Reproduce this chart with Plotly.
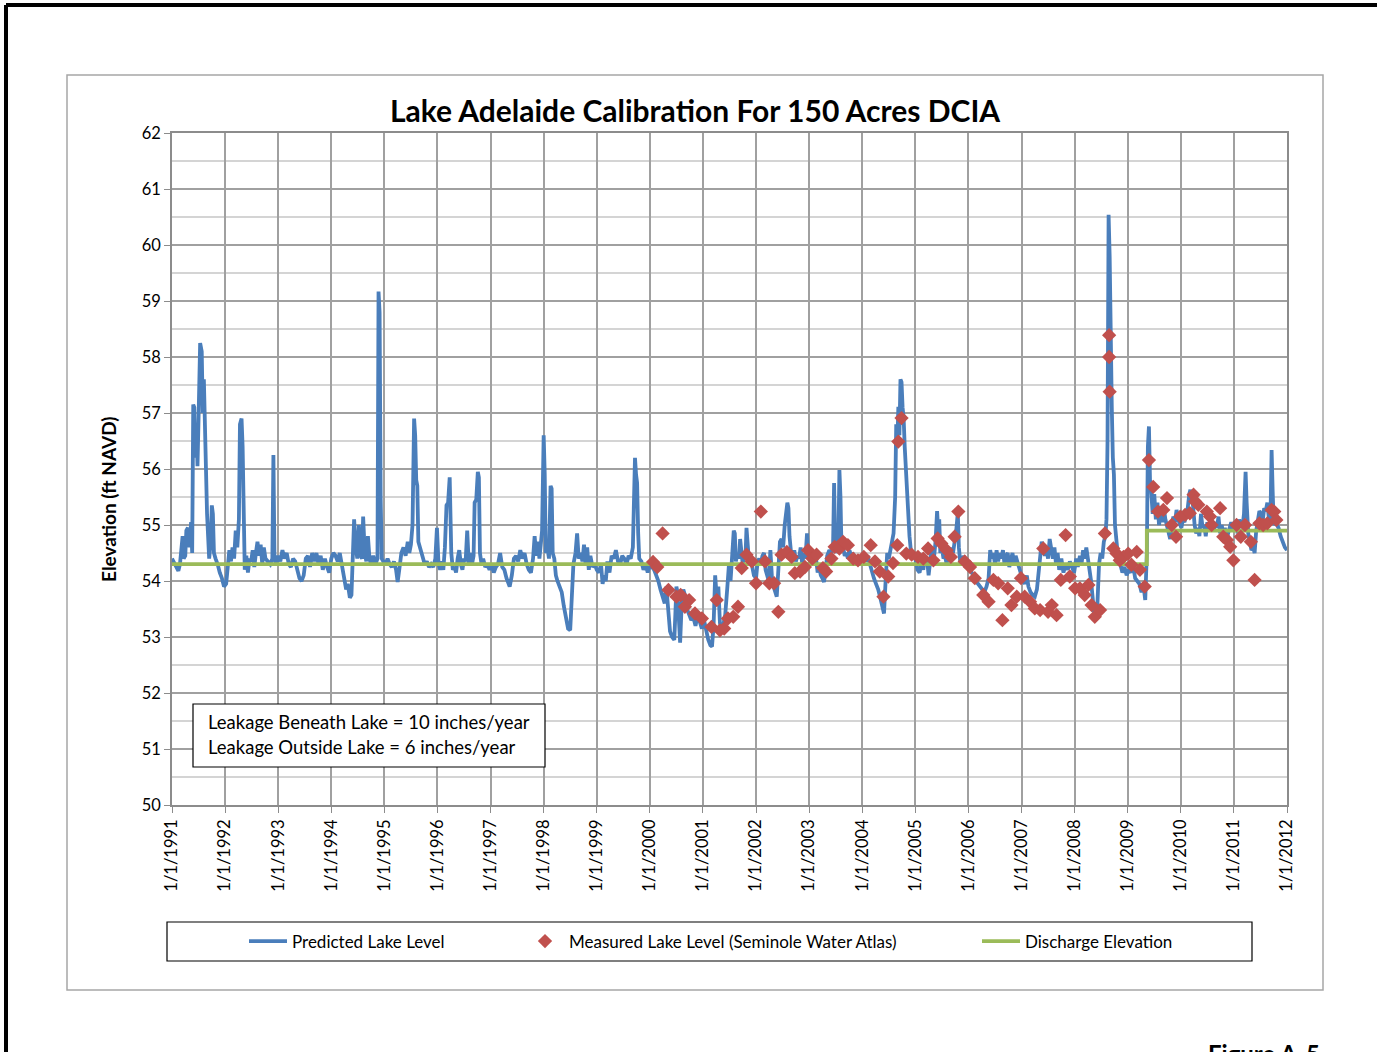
import plotly.graph_objects as go

# Predicted lake level (decimal year, ft NAVD)
pred_year = [
    1991.00, 1991.03, 1991.06, 1991.09, 1991.12, 1991.15, 1991.18, 1991.20, 1991.22, 1991.25,
    1991.27, 1991.30, 1991.33, 1991.36, 1991.38, 1991.40, 1991.42, 1991.44, 1991.46, 1991.48,
    1991.50, 1991.53, 1991.56, 1991.58, 1991.60, 1991.62, 1991.64, 1991.66, 1991.68, 1991.70,
    1991.73, 1991.75, 1991.77, 1991.79, 1991.82, 1991.86, 1991.90, 1991.94, 1991.98, 1992.02,
    1992.05, 1992.08, 1992.11, 1992.14, 1992.17, 1992.20, 1992.23, 1992.26, 1992.28, 1992.31,
    1992.33, 1992.35, 1992.37, 1992.40, 1992.43, 1992.46, 1992.49, 1992.52, 1992.55, 1992.58,
    1992.61, 1992.64, 1992.67, 1992.70, 1992.73, 1992.76, 1992.80, 1992.85, 1992.89, 1992.91,
    1992.93, 1992.96, 1993.00, 1993.04, 1993.08, 1993.12, 1993.16, 1993.20, 1993.24, 1993.28,
    1993.32, 1993.36, 1993.40, 1993.44, 1993.48, 1993.52, 1993.56, 1993.60, 1993.64, 1993.68,
    1993.72, 1993.76, 1993.80, 1993.84, 1993.88, 1993.92, 1993.96, 1994.00, 1994.04, 1994.08,
    1994.12, 1994.16, 1994.20, 1994.24, 1994.28, 1994.31, 1994.35, 1994.38, 1994.41, 1994.43,
    1994.46, 1994.49, 1994.52, 1994.55, 1994.58, 1994.60, 1994.63, 1994.66, 1994.69, 1994.72,
    1994.75, 1994.79, 1994.83, 1994.87, 1994.89, 1994.91, 1994.93, 1994.95, 1994.98, 1995.02,
    1995.06, 1995.10, 1995.14, 1995.18, 1995.22, 1995.25, 1995.28, 1995.32, 1995.36, 1995.40,
    1995.44, 1995.47, 1995.50, 1995.53, 1995.56, 1995.58, 1995.60, 1995.62, 1995.64, 1995.67,
    1995.70, 1995.73, 1995.76, 1995.80, 1995.84, 1995.88, 1995.92, 1995.96, 1995.99, 1996.02,
    1996.05, 1996.08, 1996.11, 1996.14, 1996.17, 1996.20, 1996.23, 1996.26, 1996.29, 1996.32,
    1996.35, 1996.38, 1996.41, 1996.44, 1996.47, 1996.50, 1996.53, 1996.56, 1996.59, 1996.62,
    1996.65, 1996.68, 1996.70, 1996.73, 1996.76, 1996.78, 1996.80, 1996.83, 1996.86, 1996.90,
    1996.94, 1996.98, 1997.02, 1997.06, 1997.10, 1997.14, 1997.18, 1997.22, 1997.26, 1997.30,
    1997.33, 1997.36, 1997.40, 1997.44, 1997.48, 1997.52, 1997.56, 1997.60, 1997.64, 1997.68,
    1997.72, 1997.76, 1997.80, 1997.83, 1997.86, 1997.89, 1997.92, 1997.95, 1997.97, 1998.00,
    1998.02, 1998.04, 1998.07, 1998.10, 1998.13, 1998.15, 1998.17, 1998.20, 1998.23, 1998.26,
    1998.30, 1998.34, 1998.38, 1998.42, 1998.46, 1998.50, 1998.53, 1998.56, 1998.60, 1998.63,
    1998.66, 1998.70, 1998.73, 1998.76, 1998.79, 1998.82, 1998.85, 1998.88, 1998.92, 1998.96,
    1999.00, 1999.04, 1999.08, 1999.11, 1999.14, 1999.17, 1999.20, 1999.24, 1999.28, 1999.32,
    1999.36, 1999.40, 1999.44, 1999.48, 1999.52, 1999.56, 1999.60, 1999.64, 1999.68, 1999.70,
    1999.72, 1999.74, 1999.76, 1999.78, 1999.80, 1999.84, 1999.88, 1999.92, 1999.96, 2000.00,
    2000.04, 2000.08, 2000.12, 2000.16, 2000.20, 2000.24, 2000.28, 2000.31, 2000.34, 2000.38,
    2000.42, 2000.46, 2000.48, 2000.50, 2000.52, 2000.55, 2000.57, 2000.60, 2000.63, 2000.66,
    2000.70, 2000.74, 2000.78, 2000.82, 2000.86, 2000.90, 2000.94, 2000.98, 2001.02, 2001.06,
    2001.10, 2001.14, 2001.17, 2001.20, 2001.23, 2001.26, 2001.29, 2001.32, 2001.35, 2001.38,
    2001.42, 2001.46, 2001.49, 2001.52, 2001.55, 2001.58, 2001.60, 2001.62, 2001.65, 2001.68,
    2001.70, 2001.72, 2001.75, 2001.78, 2001.80, 2001.82, 2001.84, 2001.87, 2001.90, 2001.93,
    2001.96, 2002.00, 2002.03, 2002.06, 2002.09, 2002.12, 2002.15, 2002.18, 2002.21, 2002.24,
    2002.27, 2002.30, 2002.33, 2002.36, 2002.39, 2002.42, 2002.45, 2002.48, 2002.51, 2002.54,
    2002.57, 2002.59, 2002.61, 2002.63, 2002.66, 2002.69, 2002.72, 2002.75, 2002.78, 2002.81,
    2002.84, 2002.87, 2002.90, 2002.93, 2002.96, 2002.98, 2003.01, 2003.04, 2003.07, 2003.10,
    2003.13, 2003.16, 2003.19, 2003.22, 2003.25, 2003.28, 2003.31, 2003.34, 2003.38, 2003.42,
    2003.45, 2003.47, 2003.49, 2003.52, 2003.55, 2003.57, 2003.59, 2003.61, 2003.64, 2003.67,
    2003.70, 2003.73, 2003.76, 2003.79, 2003.82, 2003.86, 2003.90, 2003.94, 2003.98, 2004.02,
    2004.06, 2004.10, 2004.14, 2004.18, 2004.22, 2004.26, 2004.30, 2004.34, 2004.38, 2004.41,
    2004.44, 2004.47, 2004.50, 2004.53, 2004.56, 2004.59, 2004.62, 2004.64, 2004.66, 2004.68,
    2004.70, 2004.72, 2004.74, 2004.76, 2004.78, 2004.80, 2004.83, 2004.86, 2004.89, 2004.92,
    2004.96, 2005.00, 2005.04, 2005.08, 2005.12, 2005.15, 2005.18, 2005.22, 2005.25, 2005.28,
    2005.31, 2005.35, 2005.38, 2005.41, 2005.43, 2005.45, 2005.47, 2005.50, 2005.53, 2005.56,
    2005.59, 2005.62, 2005.65, 2005.68, 2005.71, 2005.74, 2005.77, 2005.80, 2005.82, 2005.85,
    2005.88, 2005.91, 2005.94, 2005.98, 2006.02, 2006.06, 2006.10, 2006.14, 2006.18, 2006.22,
    2006.26, 2006.30, 2006.34, 2006.38, 2006.41, 2006.44, 2006.47, 2006.50, 2006.53, 2006.56,
    2006.59, 2006.62, 2006.65, 2006.68, 2006.71, 2006.74, 2006.77, 2006.80, 2006.83, 2006.86,
    2006.89, 2006.92, 2006.96, 2007.00, 2007.03, 2007.06, 2007.10, 2007.13, 2007.17, 2007.21,
    2007.25, 2007.29, 2007.32, 2007.35, 2007.38, 2007.41, 2007.44, 2007.47, 2007.50, 2007.53,
    2007.56, 2007.59, 2007.62, 2007.65, 2007.68, 2007.71, 2007.75, 2007.79, 2007.83, 2007.87,
    2007.91, 2007.95, 2007.99, 2008.03, 2008.06, 2008.10, 2008.13, 2008.16, 2008.19, 2008.22,
    2008.25, 2008.28, 2008.31, 2008.34, 2008.37, 2008.40, 2008.43, 2008.46, 2008.49, 2008.52,
    2008.55, 2008.58, 2008.60, 2008.62, 2008.64, 2008.66, 2008.68, 2008.70, 2008.72, 2008.74,
    2008.76, 2008.79, 2008.82, 2008.86, 2008.90, 2008.94, 2008.98, 2009.02, 2009.06, 2009.10,
    2009.14, 2009.18, 2009.22, 2009.26, 2009.30, 2009.33, 2009.36, 2009.38, 2009.40, 2009.42,
    2009.44, 2009.47, 2009.50, 2009.53, 2009.56, 2009.59, 2009.62, 2009.65, 2009.68, 2009.71,
    2009.74, 2009.77, 2009.80, 2009.83, 2009.86, 2009.89, 2009.92, 2009.95, 2009.98, 2010.01,
    2010.04, 2010.07, 2010.10, 2010.13, 2010.16, 2010.18, 2010.20, 2010.23, 2010.26, 2010.29,
    2010.32, 2010.35, 2010.38, 2010.41, 2010.44, 2010.47, 2010.50, 2010.53, 2010.56, 2010.59,
    2010.62, 2010.65, 2010.68, 2010.71, 2010.74, 2010.77, 2010.80, 2010.83, 2010.86, 2010.89,
    2010.92, 2010.95, 2010.98, 2011.01, 2011.04, 2011.07, 2011.10, 2011.13, 2011.16, 2011.19,
    2011.22, 2011.24, 2011.27, 2011.30, 2011.33, 2011.36, 2011.39, 2011.42, 2011.45, 2011.48,
    2011.51, 2011.54, 2011.57, 2011.60, 2011.63, 2011.66, 2011.69, 2011.71, 2011.73, 2011.75,
    2011.78, 2011.81, 2011.84, 2011.88, 2011.92, 2011.96, 2012.00,
]
pred_level = [
    54.40, 54.35, 54.30, 54.25, 54.18, 54.30, 54.75, 54.80, 54.40, 54.45,
    54.90, 54.95, 54.60, 55.05, 54.50, 57.15, 57.10, 56.20, 56.80, 56.05,
    56.90, 58.25, 58.10, 57.00, 57.60, 56.30, 56.00, 55.20, 54.50, 54.40,
    54.70, 55.35, 55.20, 54.50, 54.40, 54.30, 54.15, 54.05, 53.90, 53.95,
    54.25, 54.55, 54.35, 54.60, 54.40, 54.90, 54.60, 55.10, 56.80, 56.90,
    56.40, 54.60, 54.20, 54.45, 54.15, 54.40, 54.35, 54.55, 54.25, 54.50,
    54.70, 54.45, 54.65, 54.30, 54.60, 54.40, 54.35, 54.30, 54.40, 56.25,
    54.40, 54.30, 54.45, 54.35, 54.55, 54.40, 54.50, 54.30, 54.25, 54.40,
    54.35, 54.20, 54.05, 54.00, 54.10, 54.40, 54.45, 54.25, 54.50, 54.35,
    54.50, 54.30, 54.45, 54.20, 54.40, 54.25, 54.15, 54.40, 54.50, 54.45,
    54.35, 54.50, 54.25, 54.10, 53.85, 53.95, 53.70, 53.75, 54.40, 55.10,
    54.60, 54.40, 55.00, 54.45, 54.40, 55.15, 54.50, 54.35, 54.80, 54.40,
    54.30, 54.45, 54.30, 54.40, 59.17, 58.80, 55.50, 54.40, 54.35, 54.30,
    54.40, 54.30, 54.25, 54.35, 54.20, 53.98, 54.20, 54.50, 54.60, 54.45,
    54.70, 54.50, 54.65, 55.00, 56.90, 56.60, 55.80, 55.70, 54.70, 54.60,
    54.55, 54.40, 54.30, 54.35, 54.25, 54.30, 54.25, 54.40, 54.95, 54.30,
    54.20, 54.35, 54.20, 54.60, 55.35, 55.40, 55.85, 54.50, 54.20, 54.25,
    54.15, 54.40, 54.55, 54.30, 54.20, 54.40, 54.35, 54.90, 54.30, 54.50,
    54.30, 54.45, 55.40, 55.45, 55.95, 55.85, 54.50, 54.30, 54.40, 54.25,
    54.30, 54.20, 54.30, 54.15, 54.25, 54.30, 54.50, 54.25, 54.20, 54.05,
    53.95, 53.90, 54.10, 54.40, 54.45, 54.35, 54.55, 54.40, 54.50, 54.30,
    54.20, 54.15, 54.40, 54.80, 54.45, 54.70, 54.40, 54.85, 54.90, 56.60,
    55.90, 54.50, 54.60, 54.40, 55.70, 55.65, 54.50, 54.40, 54.10, 54.00,
    53.90, 53.80, 53.55, 53.35, 53.15, 53.12, 53.60, 54.30, 54.50, 54.85,
    54.40, 54.50, 54.35, 54.65, 54.30, 54.60, 54.20, 54.45, 54.25, 54.30,
    54.20, 54.15, 54.30, 53.95, 54.10, 54.00, 54.35, 54.15, 54.45, 54.40,
    54.55, 54.35, 54.30, 54.45, 54.40, 54.30, 54.45, 54.40, 54.60, 55.20,
    56.20, 55.90, 55.75, 54.85, 54.40, 54.35, 54.20, 54.30, 54.15, 54.30,
    54.25, 54.20, 54.10, 54.00, 53.85, 53.70, 53.60, 53.90, 53.45, 53.10,
    53.00, 52.95, 53.40, 53.90, 53.80, 53.00, 52.90, 53.60, 53.85, 53.75,
    53.50, 53.40, 53.30, 53.35, 53.20, 53.40, 53.25, 53.15, 53.30, 53.10,
    52.95, 52.85, 52.83, 53.20, 54.10, 53.70, 53.90, 53.25, 53.10, 53.20,
    53.40, 53.90, 54.30, 54.00, 54.50, 54.90, 54.85, 54.35, 54.50, 54.40,
    54.75, 54.60, 54.30, 54.45, 54.40, 54.95, 54.70, 54.30, 54.40, 54.20,
    54.10, 54.05, 54.35, 54.40, 54.30, 54.45, 54.50, 54.20, 54.10, 54.00,
    54.55, 54.05, 53.90, 53.80, 53.72, 54.20, 54.70, 54.75, 54.60, 55.00,
    55.35, 55.40, 55.30, 54.80, 54.50, 54.40, 54.55, 54.35, 54.45, 54.40,
    54.60, 54.30, 54.50, 54.40, 54.85, 54.50, 54.40, 54.35, 54.45, 54.30,
    54.40, 54.15, 54.25, 54.10, 54.05, 53.98, 54.20, 54.45, 54.55, 54.50,
    54.60, 55.75, 54.70, 54.50, 54.65, 55.98, 55.50, 54.55, 54.60, 54.45,
    54.50, 54.40, 54.55, 54.45, 54.50, 54.35, 54.40, 54.30, 54.45, 54.40,
    54.35, 54.45, 54.30, 54.20, 54.05, 53.95, 53.85, 53.70, 53.55, 53.42,
    54.00, 54.50, 54.40, 54.60, 54.70, 54.85, 55.50, 56.80, 56.40, 57.11,
    56.60, 57.60, 57.55, 57.10, 56.90, 56.40, 55.80, 55.20, 54.80, 54.50,
    54.45, 54.40, 54.20, 54.15, 54.35, 54.20, 54.45, 54.40, 54.10, 54.30,
    54.60, 54.40, 54.70, 55.25, 54.90, 55.10, 54.50, 54.60, 54.40, 54.45,
    54.30, 54.55, 54.35, 54.60, 54.50, 54.70, 54.90, 55.22, 54.60, 54.30,
    54.35, 54.45, 54.25, 54.35, 54.30, 54.15, 54.10, 54.00, 53.95, 53.90,
    53.85, 53.80, 53.90, 54.05, 54.55, 54.40, 54.50, 54.30, 54.55, 54.35,
    54.50, 54.40, 54.55, 54.30, 54.45, 54.50, 54.25, 54.40, 54.50, 54.30,
    54.45, 54.35, 54.20, 54.10, 54.00, 53.95, 54.10, 53.90, 53.80, 53.75,
    53.72, 53.85, 54.10, 54.40, 54.70, 54.60, 54.45, 54.55, 54.40, 54.75,
    54.50, 54.40, 54.60, 54.30, 54.50, 54.20, 54.40, 54.15, 54.30, 54.20,
    54.35, 54.25, 54.15, 54.40, 54.25, 54.45, 54.30, 54.55, 54.40, 54.60,
    54.35, 54.20, 54.00, 53.70, 53.40, 53.30, 53.60, 54.30, 54.50, 54.40,
    54.70, 54.80, 55.10, 56.50, 60.54, 59.80, 57.60, 57.10, 56.20, 55.90,
    55.00, 54.60, 54.40, 54.30, 54.15, 54.25, 54.10, 54.20, 54.15, 54.30,
    54.05, 54.00, 53.95, 53.80, 53.90, 53.66, 54.50, 56.40, 56.76, 55.80,
    55.63, 55.20, 55.55, 55.10, 55.40, 55.00, 55.20, 55.05, 55.30, 55.10,
    55.00, 54.85, 54.75, 54.95, 55.15, 55.05, 55.27, 55.10, 55.00, 54.95,
    55.10, 55.05, 55.20, 55.30, 55.55, 55.63, 55.45, 55.35, 55.00, 54.85,
    54.95, 54.80, 55.20, 54.95, 55.00, 54.80, 55.05, 54.90, 55.10, 55.00,
    54.90, 55.05, 54.95, 55.15, 54.85, 55.00, 54.85, 54.95, 54.70, 54.85,
    54.95, 55.05, 54.90, 55.00, 55.05, 54.85, 55.10, 55.00, 54.95, 55.20,
    55.95, 55.40, 54.85, 54.70, 54.55, 54.60, 54.50, 54.90, 55.10, 55.25,
    55.20, 55.05, 55.30, 55.25, 55.40, 55.10, 55.20, 56.34, 55.60, 55.00,
    55.05, 55.00, 54.95, 54.80, 54.70, 54.60, 54.55,
]

# Measured lake level, Seminole Water Atlas (decimal year, ft NAVD)
meas_year = [
    2000.06, 2000.14, 2000.24, 2000.35, 2000.50, 2000.58, 2000.66, 2000.74, 2000.85, 2000.98,
    2001.16, 2001.26, 2001.32, 2001.40, 2001.47, 2001.57, 2001.66, 2001.73, 2001.82, 2001.92,
    2002.00, 2002.09, 2002.17, 2002.25, 2002.34, 2002.42, 2002.48, 2002.58, 2002.67, 2002.73,
    2002.83, 2002.92, 2002.98, 2003.06, 2003.14, 2003.26, 2003.32, 2003.42, 2003.48, 2003.57,
    2003.64, 2003.73, 2003.83, 2003.92, 2004.03, 2004.16, 2004.24, 2004.33, 2004.40, 2004.49,
    2004.58, 2004.66, 2004.68, 2004.74, 2004.83, 2004.93, 2005.05, 2005.15, 2005.24, 2005.34,
    2005.42, 2005.49, 2005.59, 2005.67, 2005.74, 2005.81, 2005.93, 2006.03, 2006.12, 2006.28,
    2006.38, 2006.47, 2006.56, 2006.64, 2006.74, 2006.81, 2006.91, 2006.99, 2007.06, 2007.16,
    2007.25, 2007.35, 2007.41, 2007.50, 2007.57, 2007.66, 2007.74, 2007.83, 2007.91, 2008.01,
    2008.10, 2008.19, 2008.26, 2008.32, 2008.38, 2008.48, 2008.57, 2008.65, 2008.65, 2008.66,
    2008.73, 2008.79, 2008.85, 2008.92, 2009.01, 2009.07, 2009.17, 2009.23, 2009.32, 2009.40,
    2009.48, 2009.57, 2009.67, 2009.74, 2009.83, 2009.91, 2009.99, 2010.08, 2010.17, 2010.24,
    2010.27, 2010.33, 2010.49, 2010.55, 2010.58, 2010.74, 2010.80, 2010.87, 2010.93, 2010.99,
    2011.05, 2011.13, 2011.21, 2011.32, 2011.39, 2011.48, 2011.55, 2011.63, 2011.71, 2011.76,
    2011.80,
]
meas_level = [
    54.34, 54.25, 54.85, 53.84, 53.72, 53.75, 53.54, 53.66, 53.42, 53.33,
    53.18, 53.66, 53.12, 53.15, 53.33, 53.36, 53.54, 54.23, 54.47, 54.35,
    53.96, 55.24, 54.35, 53.96, 53.96, 53.45, 54.47, 54.52, 54.43, 54.14,
    54.17, 54.25, 54.55, 54.40, 54.47, 54.23, 54.17, 54.40, 54.61, 54.58,
    54.70, 54.64, 54.40, 54.37, 54.43, 54.64, 54.35, 54.17, 53.72, 54.08,
    54.32, 54.64, 56.49, 56.91, 54.49, 54.47, 54.43, 54.40, 54.58, 54.37,
    54.76, 54.67, 54.55, 54.43, 54.79, 55.24, 54.35, 54.25, 54.05, 53.75,
    53.63, 54.02, 53.96, 53.30, 53.87, 53.57, 53.72, 54.05, 53.72, 53.63,
    53.51, 53.48, 54.58, 53.45, 53.57, 53.39, 54.02, 54.82, 54.08, 53.87,
    53.87, 53.75, 53.93, 53.57, 53.36, 53.48, 54.85, 58.39, 58.00, 57.38,
    54.58, 54.49, 54.37, 54.43, 54.49, 54.29, 54.52, 54.20, 53.90, 56.16,
    55.68, 55.24, 55.27, 55.48, 55.00, 54.79, 55.15, 55.18, 55.21, 55.54,
    55.42, 55.36, 55.24, 55.15, 55.00, 55.30, 54.79, 54.73, 54.61, 54.37,
    55.00, 54.79, 55.00, 54.70, 54.02, 55.03, 55.00, 55.03, 55.27, 55.24,
    55.09,
]

# Discharge elevation control (decimal year, ft NAVD)
discharge_year = [1991.00, 2009.36, 2009.36, 2012.00]
discharge_level = [54.3, 54.3, 54.9, 54.9]

tick_years = list(range(1991, 2013))
tick_labels = [f"1/1/{y}" for y in tick_years]

FONT = "Lato"
X0, X1, Y0, Y1 = 172, 1287, 133, 805  # plot area in page pixels


def px(x):
    return (x - X0) / (X1 - X0)


def py(y):
    return (Y1 - y) / (Y1 - Y0)


fig = go.Figure()
fig.add_trace(go.Scatter(
    x=pred_year, y=pred_level, mode="lines", name="Predicted Lake Level",
    line=dict(color="#4A7EBB", width=3.8), legendrank=1, legendwidth=224,
))
fig.add_trace(go.Scatter(
    x=discharge_year, y=discharge_level, mode="lines", name="Discharge Elevation",
    line=dict(color="#9BBB59", width=3.8), legendrank=3,
))
fig.add_trace(go.Scatter(
    x=meas_year, y=meas_level, mode="markers",
    name="Measured Lake Level (Seminole Water Atlas)",
    marker=dict(symbol="diamond", size=11, color="#C0504D"),
    legendrank=2, legendwidth=403,
))

shapes = [
    # outer page frame
    dict(type="line", xref="paper", yref="paper", x0=px(6), x1=px(1400), y0=py(5), y1=py(5),
         line=dict(color="black", width=4)),
    dict(type="line", xref="paper", yref="paper", x0=px(6), x1=px(6), y0=py(5), y1=py(1100),
         line=dict(color="black", width=4)),
    # chart area border
    dict(type="rect", xref="paper", yref="paper", x0=px(67), x1=px(1323), y0=py(990), y1=py(75),
         line=dict(color="#A6A6A6", width=1.5)),
    # legend frame
    dict(type="rect", xref="paper", yref="paper", x0=px(167), x1=px(1252), y0=py(961), y1=py(922),
         line=dict(color="black", width=1.2)),
    # note box
    dict(type="rect", xref="paper", yref="paper", x0=px(193), x1=px(545), y0=py(767), y1=py(704),
         line=dict(color="black", width=1.2), fillcolor="white", layer="above"),
]

annotations = [
    dict(text="<b>Elevation (ft NAVD)</b>", xref="paper", yref="paper", x=px(108), y=py(499),
         textangle=-90, showarrow=False, font=dict(family=FONT, size=19, color="black"),
         xanchor="center", yanchor="middle"),
    dict(text="Leakage Beneath Lake = 10 inches/year", xref="paper", yref="paper",
         x=px(206), y=py(722), xanchor="left", yanchor="middle", showarrow=False,
         font=dict(family=FONT, size=18.5, color="black")),
    dict(text="Leakage Outside Lake = 6 inches/year", xref="paper", yref="paper",
         x=px(206), y=py(747), xanchor="left", yanchor="middle", showarrow=False,
         font=dict(family=FONT, size=18.5, color="black")),
    dict(text="<b>Figure A-5</b>", xref="paper", yref="paper", x=px(1206), y=py(1037),
         xanchor="left", yanchor="top", showarrow=False,
         font=dict(family=FONT, size=24, color="black")),
]

fig.update_layout(
    width=1377, height=1052,
    margin=dict(l=X0, r=1377 - X1, t=Y0, b=1052 - Y1),
    paper_bgcolor="white", plot_bgcolor="white",
    font=dict(family=FONT, size=16, color="black"),
    title=dict(text="<b>Lake Adelaide Calibration For 150 Acres DCIA</b>",
               x=px(695), xref="paper", xanchor="center",
               y=1 - 111 / 1052, yref="container", yanchor="middle",
               font=dict(family=FONT, size=30, color="black")),
    showlegend=True,
    legend=dict(orientation="h", x=px(244), y=py(941.5), xanchor="left", yanchor="middle",
                xref="paper", yref="paper", bgcolor="rgba(0,0,0,0)", borderwidth=0,
                font=dict(family=FONT, size=17, color="black"), itemwidth=38,
                traceorder="normal"),
    shapes=shapes,
    annotations=annotations,
)

fig.update_xaxes(
    range=[1991, 2012], tickmode="array", tickvals=tick_years, ticktext=tick_labels,
    tickangle=-90, ticks="outside", ticklen=6, tickcolor="#8C8C8C",
    showgrid=True, gridcolor="#A0A0A0", gridwidth=1.5,
    showline=True, linecolor="#8C8C8C", linewidth=1.5, mirror=True,
    zeroline=False, tickfont=dict(family=FONT, size=16.5, color="black"),
)
fig.update_yaxes(
    range=[50, 62], dtick=1, tick0=50, ticks="outside", ticklen=6, tickcolor="#8C8C8C",
    showgrid=True, gridcolor="#A0A0A0", gridwidth=1.5,
    minor=dict(dtick=0.5, showgrid=True, gridcolor="#D4D4D4", gridwidth=1.5),
    showline=True, linecolor="#8C8C8C", linewidth=1.5, mirror=True,
    zeroline=False, tickfont=dict(family=FONT, size=16.5, color="black"),
)

fig.write_html("out.html")
